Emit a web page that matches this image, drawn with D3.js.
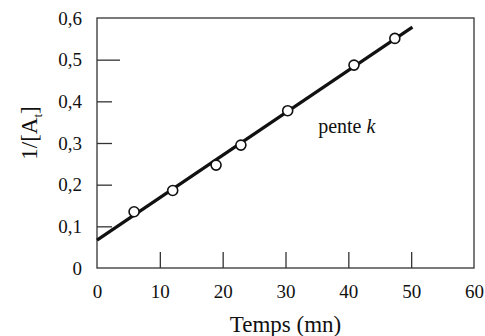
<!DOCTYPE html>
<html>
<head>
<meta charset="utf-8">
<script src="https://cdn.jsdelivr.net/npm/d3@7"></script>
<style>
  body { margin: 0; background: #fff; }
  svg text { font-family: "Liberation Serif", "DejaVu Serif", serif !important; fill: #111; }
</style>
</head>
<body>
<div id="chart"></div>
<script>
// data
const times = [5.9, 12.05, 18.95, 22.9, 30.35, 40.9, 47.4]
const invConc = [0.135, 0.186, 0.247, 0.295, 0.3775, 0.487, 0.551]
const fitX = [0, 50.2]
const fitY = [0.067, 0.578]
const xTicks = [0, 10, 20, 30, 40, 50, 60]
const yTicks = [0, 0.1, 0.2, 0.3, 0.4, 0.5, 0.6]

const MARGIN = { LEFT: 97, RIGHT: 11, TOP: 18, BOTTOM: 68 }
const WIDTH = 485 - MARGIN.LEFT - MARGIN.RIGHT
const HEIGHT = 336 - MARGIN.TOP - MARGIN.BOTTOM

const svg = d3.select("#chart").append("svg")
    .attr("width", 485)
    .attr("height", 336)

const g = svg.append("g")
    .attr("transform", `translate(${MARGIN.LEFT}, ${MARGIN.TOP})`)

const x = d3.scaleLinear().domain([0, 60]).range([0, WIDTH])
const y = d3.scaleLinear().domain([0, 0.6]).range([HEIGHT, 0])

const fmt = d => d === 0 ? "0" : d3.format(".1f")(d).replace(".", ",")

// frame
g.append("rect")
    .attr("width", WIDTH)
    .attr("height", HEIGHT)
    .attr("fill", "none")
    .attr("stroke", "#333")
    .attr("stroke-width", 1.3)

// X axis, ticks pointing inward
const xAxis = g.append("g")
    .attr("transform", `translate(0, ${HEIGHT})`)
    .call(d3.axisBottom(x).tickValues(xTicks).tickSize(0).tickPadding(0).tickFormat(d3.format("d")))
xAxis.select(".domain").remove()
xAxis.selectAll("text")
    .attr("y", 30)
    .attr("dy", 0)
    .attr("font-size", "19px")
xAxis.selectAll(".tick")
    .filter(d => d > 0 && d < 60)
    .append("line")
    .attr("y1", 0).attr("y2", -16)
    .attr("stroke", "#333").attr("stroke-width", 1.3)

// Y axis, ticks pointing inward
const yAxis = g.append("g")
    .call(d3.axisLeft(y).tickValues(yTicks).tickSize(0).tickPadding(0).tickFormat(fmt))
yAxis.select(".domain").remove()
yAxis.selectAll("text")
    .attr("x", -15)
    .attr("dy", "0.32em")
    .attr("font-size", "19px")
yAxis.selectAll(".tick")
    .filter(d => d > 0 && d < 0.6)
    .append("line")
    .attr("x1", 0).attr("x2", d => Math.abs(d - 0.5) < 1e-9 ? 23 : 15)
    .attr("stroke", "#333").attr("stroke-width", 1.3)

// labels
g.append("text")
    .attr("x", WIDTH / 2)
    .attr("y", HEIGHT + 64)
    .attr("text-anchor", "middle")
    .attr("font-size", "23px")
    .text("Temps (mn)")

const yLabel = g.append("text")
    .attr("transform", "rotate(-90)")
    .attr("x", -115)
    .attr("y", -60)
    .attr("text-anchor", "middle")
    .attr("font-size", "23px")
yLabel.append("tspan").text("1/[A")
yLabel.append("tspan").attr("font-size", "13px").attr("dy", 5).text("t")
yLabel.append("tspan").attr("dy", -5).text("]")

const pente = g.append("text")
    .attr("x", x(35.2))
    .attr("y", y(0.324))
    .attr("font-size", "20px")
pente.append("tspan").text("pente ")
pente.append("tspan").attr("font-style", "italic").text("k")

// fitted line
g.append("line")
    .attr("x1", x(fitX[0])).attr("y1", y(fitY[0]))
    .attr("x2", x(fitX[1])).attr("y2", y(fitY[1]))
    .attr("stroke", "#111")
    .attr("stroke-width", 3.2)

// measured points
g.selectAll("circle")
    .data(times.map((t, i) => ({ t, v: invConc[i] })))
    .enter().append("circle")
    .attr("cx", d => x(d.t))
    .attr("cy", d => y(d.v))
    .attr("r", 5)
    .attr("fill", "#fff")
    .attr("stroke", "#111")
    .attr("stroke-width", 1.6)
</script>
</body>
</html>
